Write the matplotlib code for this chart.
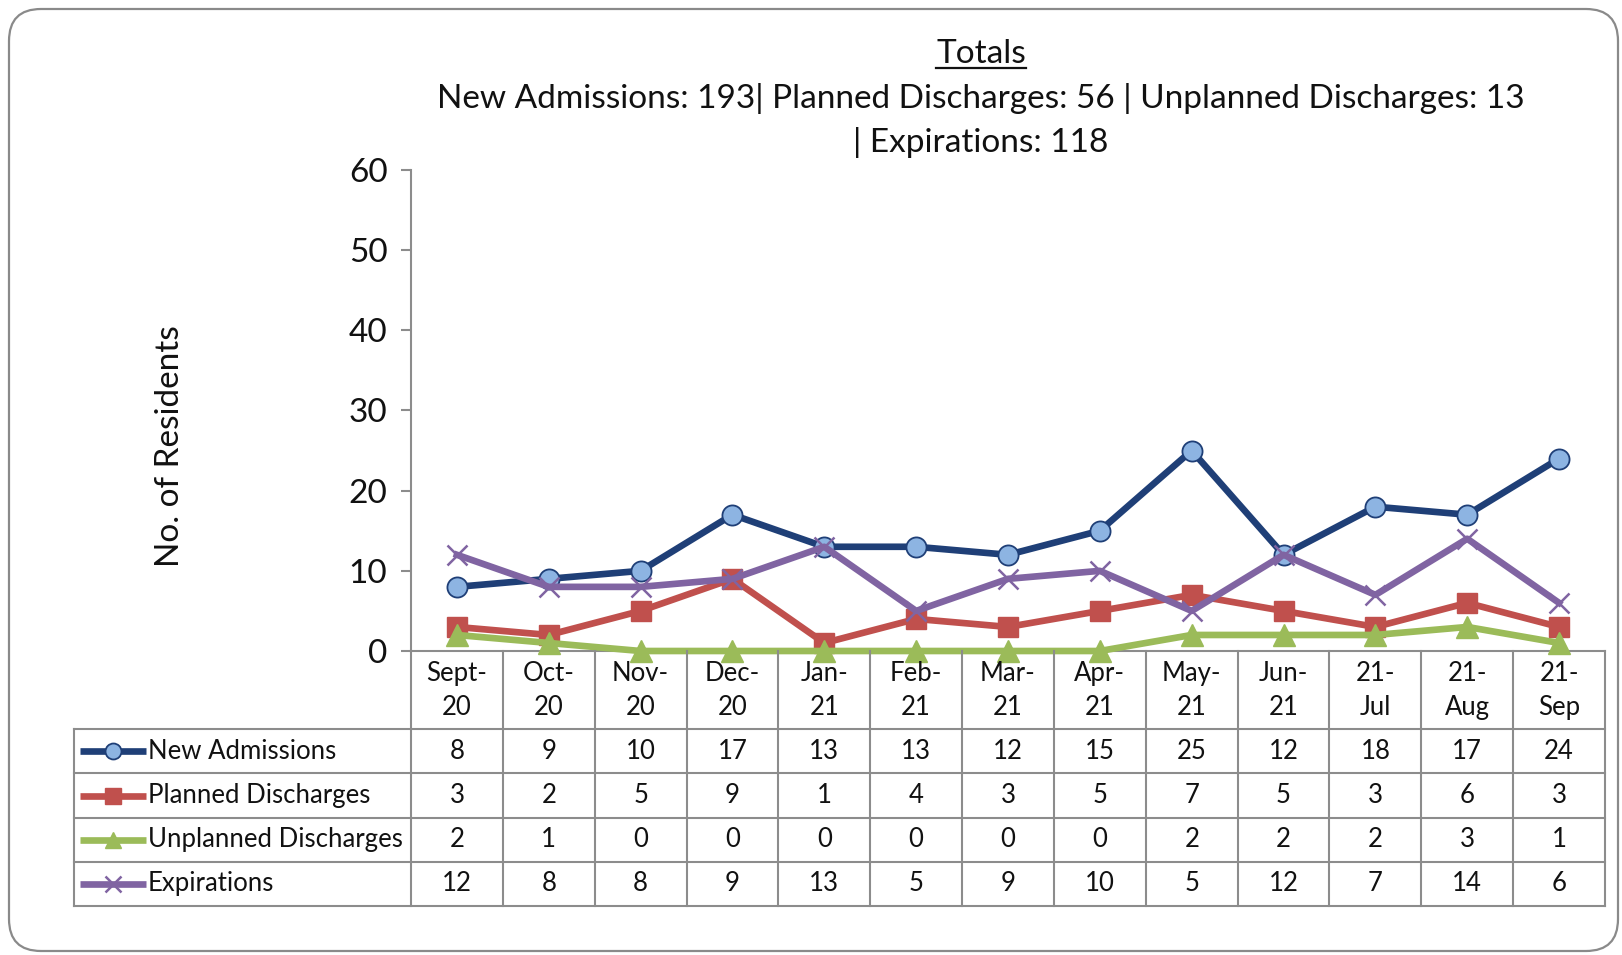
import matplotlib
matplotlib.use('Agg')
import matplotlib.pyplot as plt
from matplotlib.patches import FancyBboxPatch
from matplotlib.transforms import IdentityTransform

plt.rcParams['font.family'] = ['Lato', 'DejaVu Sans']

months = ['Sept-\n20', 'Oct-\n20', 'Nov-\n20', 'Dec-\n20', 'Jan-\n21', 'Feb-\n21', 'Mar-\n21',
          'Apr-\n21', 'May-\n21', 'Jun-\n21', '21-\nJul', '21-\nAug', '21-\nSep']
new_admissions = [8, 9, 10, 17, 13, 13, 12, 15, 25, 12, 18, 17, 24]
planned = [3, 2, 5, 9, 1, 4, 3, 5, 7, 5, 3, 6, 3]
unplanned = [2, 1, 0, 0, 0, 0, 0, 0, 2, 2, 2, 3, 1]
expirations = [12, 8, 8, 9, 13, 5, 9, 10, 5, 12, 7, 14, 6]

series = [
    ('New Admissions', new_admissions, dict(color='#1F3F77', marker='o', mfc='#8DB4E2', mec='#1F3F77', ms=14.5, mew=1.3)),
    ('Planned Discharges', planned, dict(color='#C0504D', marker='s', mfc='#C0504D', mec='#C0504D', ms=14.5)),
    ('Unplanned Discharges', unplanned, dict(color='#9BBB59', marker='^', mfc='#9BBB59', mec='#9BBB59', ms=15.5)),
    ('Expirations', expirations, dict(color='#8064A2', marker='x', mfc='#8064A2', mec='#8064A2', ms=15, mew=1.8)),
]

W, H = 1622, 955
fig = plt.figure(figsize=(W / 100, H / 100), dpi=100)

def fx(px):
    return px / W

def fy(py):
    return 1 - py / H

# rounded frame
frame = FancyBboxPatch((9, 4), 1609, 942, boxstyle='round,pad=0,rounding_size=32',
                       transform=IdentityTransform(), fc='none', ec='#8a8a8a', lw=1.6)
fig.patches.append(frame)

txt = '#111111'
fs_big = 24
fs_tab = 18.5
grid = '#8c8c8c'
lw = 4.8
left, right, top, bottom = 411, 1605, 170, 651
ax = fig.add_axes([fx(left), fy(bottom), fx(right - left), fy(top) - fy(bottom)])
ax.patch.set_alpha(0)
x = list(range(len(months)))
for name, vals, st in series:
    ax.plot(x, vals, lw=lw, clip_on=False, zorder=3, **st)
ax.set_xlim(-0.5, len(months) - 0.5)
ax.set_ylim(0, 60)
ax.set_yticks(range(0, 61, 10))
ax.set_xticks([])
for s in ['top', 'right']:
    ax.spines[s].set_visible(False)
for s in ['left', 'bottom']:
    ax.spines[s].set_color(grid)
    ax.spines[s].set_linewidth(1.5)
ax.tick_params(axis='y', length=7, width=1.5, color=grid, labelsize=fs_big, pad=10, labelcolor=txt)
fig.text(fx(170), fy(446), 'No. of Residents', rotation=90, ha='center', va='center',
         fontsize=fs_big, color=txt)

# data table below the axis
legend_left = 74
colw = (right - left) / len(months)
xl = -0.5 - (left - legend_left) / colw
head = 78 / 44
tb = fig.add_axes([fx(legend_left), fy(906), fx(right - legend_left), fy(bottom) - fy(906)])
tb.set_xlim(xl, len(months) - 0.5)
tb.set_ylim(len(series), -head)
tb.axis('off')
lk = dict(color=grid, lw=1.5, clip_on=False)
for r in range(len(series) + 1):
    tb.plot([xl, len(months) - 0.5], [r, r], **lk)
for k in range(len(months) + 1):
    tb.plot([k - 0.5, k - 0.5], [-head, len(series)], **lk)
tb.plot([xl, xl], [0, len(series)], **lk)

for i, m in enumerate(months):
    tb.text(i, -head / 2, m, ha='center', va='center', fontsize=fs_tab, linespacing=1.45, color=txt)
for r, (name, vals, st) in enumerate(series):
    y = r + 0.5
    kx0 = xl + (80 - legend_left) / colw
    kx1 = xl + (146 - legend_left) / colw
    tb.plot([kx0, kx1], [y, y], color=st['color'], lw=lw, solid_capstyle='butt', clip_on=False)
    kst = dict(st)
    kst['ms'] = 11.5
    tb.plot([(kx0 + kx1) / 2], [y], linestyle='none', clip_on=False, **kst)
    tb.text(xl + (148 - legend_left) / colw, y, name, ha='left', va='center', fontsize=fs_tab, color=txt)
    for i, v in enumerate(vals):
        tb.text(i, y, str(v), ha='center', va='center', fontsize=fs_tab, color=txt)

# title
cx = fx(981)
t1 = fig.text(cx, fy(54), 'Totals', ha='center', va='center', fontsize=fs_big, color=txt)
fig.text(cx, fy(98), 'New Admissions: 193| Planned Discharges: 56 | Unplanned Discharges: 13',
         ha='center', va='center', fontsize=fs_big, color=txt)
fig.text(cx, fy(142), '| Expirations: 118', ha='center', va='center', fontsize=fs_big, color=txt)

fig.canvas.draw()
bb = t1.get_window_extent()
fig.add_artist(plt.Line2D([bb.x0 / W, bb.x1 / W], [(bb.y0 + 1) / H, (bb.y0 + 1) / H],
                          transform=fig.transFigure, color=txt, lw=1.6))

plt.savefig('out.png', dpi=100)
